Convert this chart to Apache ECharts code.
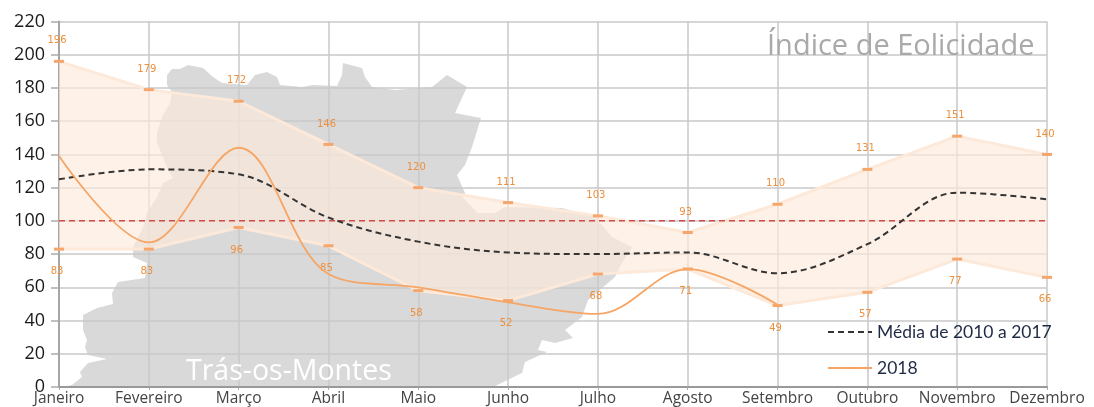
<!DOCTYPE html>
<html>
<head>
<meta charset="utf-8">
<title>Índice de Eolicidade</title>
<style>
  html, body { margin: 0; background: #fff; }
  #chart { width: 1094px; height: 407px; }
</style>
<script src="https://cdn.jsdelivr.net/npm/echarts@6/dist/echarts.min.js"></script>
</head>
<body>
<div id="chart"></div>
<script>
const meses = ['Janeiro', 'Fevereiro', 'Março', 'Abril', 'Maio', 'Junho', 'Julho', 'Agosto', 'Setembro', 'Outubro', 'Novembro', 'Dezembro']
const maximos = [196, 179, 172, 146, 120, 111, 103, 93, 110, 131, 151, 140]
const minimos = [83, 83, 96, 85, 58, 52, 68, 71, 49, 57, 77, 66]
const media = [125, 131, 128, 102, 87.5, 81, 80, 81, 68.5, 86, 117, 113]
const ano2018 = [139, 87, 144, 68, 60, 51, 44, 71, 49.5, null, null, null]
const referencia = [100, 100, 100, 100, 100, 100, 100, 100, 100, 100, 100, 100]

// silhueta da regiao, so decoracao de fundo (px)
const mapa = [
  [62, 387], [72, 385], [82, 377], [80, 372], [88, 363], [107, 359], [88, 355], [85, 347], [87, 340], [83, 330],
  [83, 315], [97, 308], [113, 304], [112, 293], [118, 282], [145, 278], [147, 263], [133, 257], [133, 247], [142, 230],
  [147, 213], [157, 197], [163, 183], [173, 178], [168, 170], [163, 157], [157, 143], [157, 133], [162, 117], [170, 103],
  [172, 92], [167, 85], [167, 75], [172, 69], [180, 69], [188, 65], [203, 68], [213, 77], [222, 83], [247, 85],
  [255, 75], [267, 72], [277, 77], [280, 85], [302, 87], [313, 85], [337, 86], [342, 75], [343, 63], [362, 68],
  [365, 77], [372, 87], [395, 90], [432, 87], [447, 75], [467, 87], [455, 113], [481, 118], [472, 147], [465, 165],
  [457, 175], [465, 193], [463, 198], [478, 213], [495, 213], [505, 207], [562, 208], [595, 217], [612, 237], [632, 247],
  [622, 263], [615, 277], [588, 300], [582, 317], [565, 330], [573, 338], [555, 343], [542, 340], [538, 350], [547, 352],
  [525, 362], [522, 373], [493, 387]
]

const laranja = '#f79646'
const banda = '#fde9d9'

function serieLimite(nome, dados, posicao, distancia) {
  return {
    name: nome,
    type: 'line',
    data: dados,
    z: 3,
    symbol: 'rect',
    symbolSize: [10, 3],
    itemStyle: { color: '#f4a66c' },
    lineStyle: { color: banda, width: 3 },
    label: {
      show: true,
      position: posicao,
      distance: distancia,
      offset: [-2, 0],
      fontFamily: 'DejaVu Sans',
      fontSize: 10,
      color: '#ee8f3c'
    }
  }
}

const chart = echarts.init(document.getElementById('chart'))

chart.setOption({
  animation: false,
  backgroundColor: '#fff',
  title: [{
    text: 'Índice de Eolicidade',
    left: 762,
    top: 27,
    textStyle: { fontFamily: 'Open Sans', fontSize: 29, fontWeight: 'normal', color: '#a9a9a9' }
  }, {
    text: 'Trás-os-Montes',
    left: 181,
    top: 352,
    textStyle: { fontFamily: 'Open Sans', fontSize: 28.5, fontWeight: 'normal', color: '#fff' }
  }],
  graphic: [{
    type: 'polygon',
    z: -10,
    silent: true,
    shape: { points: mapa },
    style: { fill: '#d9d9d9' }
  }],
  legend: {
    orient: 'vertical',
    left: 822,
    top: 318,
    itemWidth: 44,
    itemHeight: 2,
    itemGap: 18,
    data: ['Média de 2010 a 2017', '2018'],
    textStyle: { fontFamily: 'Lato', fontSize: 17.5, color: '#1f2a44' }
  },
  grid: { left: 59, right: 47, top: 21.5, height: 366 },
  xAxis: {
    type: 'category',
    data: meses,
    boundaryGap: false,
    axisLine: { lineStyle: { color: '#999', width: 2 } },
    axisTick: { alignWithLabel: true, length: 3, lineStyle: { color: '#aaa' } },
    axisLabel: { interval: 0, margin: 4, fontFamily: 'Open Sans', fontSize: 15.5, color: '#444' },
    splitLine: { show: true, lineStyle: { color: '#c8c8c8', width: 1.5 } }
  },
  yAxis: {
    type: 'value',
    min: 0,
    max: 220,
    interval: 20,
    axisLine: { show: true, lineStyle: { color: '#a6a6a6', width: 2 } },
    axisTick: { show: true, length: 8, lineStyle: { color: '#aaa', width: 1.5 } },
    axisLabel: { margin: 14, fontFamily: 'Open Sans', fontSize: 18, color: '#1a1a1a' },
    splitLine: { lineStyle: { color: '#c8c8c8', width: 1.5 } }
  },
  series: [{
    name: 'bandaBase',
    type: 'line',
    stack: 'banda',
    data: minimos,
    symbol: 'none',
    lineStyle: { width: 0 }
  }, {
    name: 'bandaFaixa',
    type: 'line',
    stack: 'banda',
    data: maximos.map((v, i) => v - minimos[i]),
    symbol: 'none',
    lineStyle: { width: 0 },
    areaStyle: { color: 'rgba(254,234,218,0.65)', opacity: 1 }
  },
  serieLimite('Máximo', maximos, 'top', 14),
  serieLimite('Mínimo', minimos, 'bottom', 16),
  {
    name: 'Referência',
    type: 'line',
    data: referencia,
    z: 4,
    symbol: 'none',
    lineStyle: { color: '#d04a4a', width: 1.5, type: [6, 4] }
  }, {
    name: 'Média de 2010 a 2017',
    type: 'line',
    data: media,
    smooth: 0.35,
    z: 5,
    symbol: 'none',
    itemStyle: { color: '#333' },
    lineStyle: { color: '#333', width: 2, type: [6, 4] }
  }, {
    name: '2018',
    type: 'line',
    data: ano2018,
    smooth: 0.35,
    z: 5,
    symbol: 'none',
    itemStyle: { color: laranja },
    lineStyle: { color: '#f6a564', width: 1.8 }
  }]
})
</script>
</body>
</html>
